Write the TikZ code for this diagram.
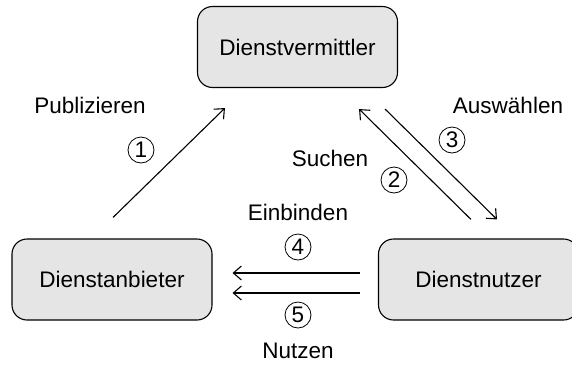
\documentclass[tikz,border=0pt]{standalone}
\usepackage{fontspec}
\setmainfont{Liberation Sans}
\usetikzlibrary{arrows.meta,calc}

\begin{document}
\begin{tikzpicture}[x=1pt,y=-1pt,
    every node/.style={font=\fontsize{22.5}{26}\selectfont},
    role/.style={draw, line width=1.1pt, rounded corners=15pt, fill=black!10,
                 minimum width=200pt, minimum height=81pt, inner sep=0pt},
    stepno/.style={draw, circle, line width=0.8pt, minimum size=26pt, inner sep=0pt},
    label/.style={anchor=base},
    flow/.style={line width=1.1pt, -{Straight Barb[length=8pt,width=14pt,line width=1.1pt]}}]
  \useasboundingbox (0,0) rectangle (572,365);

  % participants
  \node[role] (verm) at (297.5,47) {Dienstvermittler};
  \node[role] (anb)  at (112,279.5) {Dienstanbieter};
  \node[role] (nutz) at (478.5,279.5) {Dienstnutzer};

  % connector end points
  \coordinate (p1s) at ($(anb.north)+(1,-21)$);
  \coordinate (p1e) at ($(verm.south west)+(28,20)$);
  \coordinate (p2s) at ($(nutz.north)+(-7.5,-19)$);
  \coordinate (p2e) at ($(verm.south east)+(-39,21)$);
  \coordinate (p3s) at ($(verm.south east)+(-13,21)$);
  \coordinate (p3e) at ($(nutz.north)+(18.5,-19)$);
  \coordinate (p4s) at ($(nutz.west)+(-18,-6.5)$);
  \coordinate (p4e) at ($(anb.east)+(20,-6.5)$);
  \coordinate (p5s) at ($(nutz.west)+(-18,13.5)$);
  \coordinate (p5e) at ($(anb.east)+(20,13.5)$);

  % flows
  \draw[flow] (p1s) -- (p1e);
  \draw[flow] (p2s) -- (p2e);
  \draw[flow] (p3s) -- (p3e);
  \draw[flow] (p4s) -- (p4e);
  \draw[flow] (p5s) -- (p5e);

  % step numbers
  \node[stepno] (n1) at (141,150) {1};
  \node[stepno] (n2) at (394,180) {2};
  \node[stepno] (n3) at (452,140) {3};
  \node[stepno] (n4) at (298,247) {4};
  \node[stepno] (n5) at (298,315) {5};

  % flow labels
  \node[label] (lpub) at (90,113) {Publizieren};
  \node[label] (laus) at (508,113) {Auswählen};
  \node[label] (lsuc) at (330,166) {Suchen};
  \node[label] (lein) at (298,220) {Einbinden};
  \node[label] (lnut) at (298,358) {Nutzen};
\end{tikzpicture}
\end{document}
